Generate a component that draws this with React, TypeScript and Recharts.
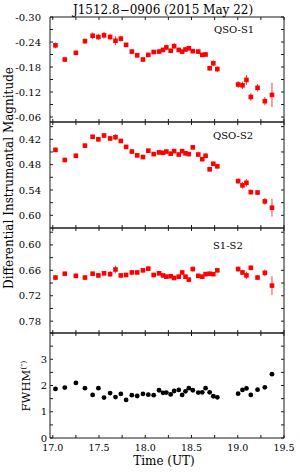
import React from 'react';
import { ScatterChart, Scatter, XAxis, YAxis, ErrorBar } from 'recharts';

// observation times (UT hours), shared by all panels
const times = [
  17.029, 17.13, 17.25, 17.348, 17.431, 17.493, 17.554, 17.62, 17.678, 17.736,
  17.793, 17.855, 17.913, 17.975, 18.033, 18.091, 18.149, 18.192, 18.228, 18.275,
  18.312, 18.362, 18.399, 18.435, 18.471, 18.514, 18.573, 18.616, 18.652, 18.696,
  18.736, 18.779, 19.004, 19.051, 19.094, 19.141, 19.214, 19.293, 19.37,
];

const qsoS1 = [
  -0.232, -0.198, -0.214, -0.242, -0.255, -0.252, -0.256, -0.252, -0.243, -0.248,
  -0.233, -0.217, -0.208, -0.198, -0.209, -0.216, -0.217, -0.221, -0.227, -0.219,
  -0.23, -0.221, -0.217, -0.222, -0.225, -0.218, -0.217, -0.209, -0.21, -0.177,
  -0.189, -0.175, -0.138, -0.136, -0.149, -0.108, -0.13, -0.098, -0.113,
];
const qsoS1Err = [
  0.007, 0.005, 0.005, 0.006, 0.008, 0.007, 0.008, 0.008, 0.011, 0.007,
  0.005, 0.005, 0.005, 0.005, 0.005, 0.005, 0.005, 0.005, 0.006, 0.005,
  0.007, 0.005, 0.005, 0.005, 0.006, 0.005, 0.005, 0.005, 0.005, 0.006,
  0.007, 0.007, 0.008, 0.009, 0.012, 0.009, 0.009, 0.01, 0.029,
];

const qsoS2 = [
  0.445, 0.469, 0.459, 0.435, 0.414, 0.42, 0.411, 0.418, 0.415, 0.424,
  0.438, 0.449, 0.458, 0.462, 0.447, 0.455, 0.451, 0.452, 0.449, 0.454,
  0.448, 0.456, 0.448, 0.453, 0.455, 0.439, 0.456, 0.467, 0.459, 0.491,
  0.478, 0.484, 0.519, 0.529, 0.523, 0.545, 0.546, 0.567, 0.582,
];
const qsoS2Err = [
  0.005, 0.005, 0.005, 0.005, 0.005, 0.005, 0.005, 0.006, 0.007, 0.005,
  0.005, 0.005, 0.005, 0.005, 0.005, 0.005, 0.005, 0.005, 0.005, 0.005,
  0.005, 0.005, 0.005, 0.005, 0.005, 0.005, 0.005, 0.005, 0.005, 0.005,
  0.005, 0.005, 0.006, 0.008, 0.009, 0.006, 0.006, 0.008, 0.021,
];

const s1s2 = [
  0.677, 0.668, 0.673, 0.677, 0.668, 0.672, 0.667, 0.669, 0.658, 0.672,
  0.671, 0.665, 0.665, 0.66, 0.656, 0.671, 0.667, 0.672, 0.675, 0.674,
  0.678, 0.675, 0.665, 0.675, 0.682, 0.657, 0.673, 0.675, 0.669, 0.668,
  0.669, 0.66, 0.657, 0.665, 0.672, 0.654, 0.677, 0.666, 0.696,
];
const s1s2Err = [
  0.005, 0.005, 0.005, 0.005, 0.005, 0.005, 0.005, 0.007, 0.009, 0.005,
  0.005, 0.005, 0.005, 0.005, 0.005, 0.005, 0.005, 0.005, 0.005, 0.005,
  0.005, 0.005, 0.005, 0.005, 0.005, 0.006, 0.005, 0.005, 0.005, 0.005,
  0.005, 0.005, 0.006, 0.006, 0.009, 0.006, 0.005, 0.008, 0.022,
];

const fwhm = [
  1.87, 1.92, 2.1, 1.9, 1.64, 1.9, 1.54, 1.71, 1.56, 1.68,
  1.45, 1.63, 1.6, 1.68, 1.65, 1.63, 1.82, 1.72, 1.73, 1.66,
  1.79, 1.83, 1.64, 1.78, 1.9, 1.82, 1.73, 1.74, 1.9, 1.74,
  1.59, 1.55, 1.69, 1.83, 1.89, 1.64, 1.84, 1.93, 2.43,
];

const xTicks = [17, 17.25, 17.5, 17.75, 18, 18.25, 18.5, 18.75, 19, 19.25, 19.5];
const xLabels = [17, 17.5, 18, 18.5, 19, 19.5];

const s1Ticks = [-0.3, -0.27, -0.24, -0.21, -0.18, -0.15, -0.12, -0.09, -0.06];
const s1Labels = [-0.3, -0.24, -0.18, -0.12, -0.06];
const s2Ticks = [0.39, 0.42, 0.45, 0.48, 0.51, 0.54, 0.57, 0.6];
const s2Labels = [0.42, 0.48, 0.54, 0.6];
const dTicks = [0.57, 0.6, 0.63, 0.66, 0.69, 0.72, 0.75, 0.78];
const dLabels = [0.6, 0.66, 0.72, 0.78];
const fTicks = [0, 0.5, 1, 1.5, 2, 2.5, 3, 3.5, 4];
const fLabels = [0, 1, 2, 3];

const FONT = 'DejaVu Serif';
const INK = '#1a1a1a';
const PAD = 8;

const only = (list: number[], digits: number) => (v: number) =>
  list.some((m) => Math.abs(m - v) < 1e-6) ? v.toFixed(digits) : '';

const build = (ys: number[], errs?: number[]) =>
  times.map((x, i) => ({ x, y: ys[i], e: errs ? errs[i] : 0 }));

const redSquare = (p: any) => (
  <rect x={p.cx - 2.3} y={p.cy - 2.3} width={4.6} height={4.6} fill="#ff0000" />
);
const blackDot = (p: any) => <circle cx={p.cx} cy={p.cy} r={2.4} fill="#000" />;

interface PanelProps {
  top: number;
  height: number;
  data: { x: number; y: number; e: number }[];
  domain: [number, number];
  ticks: number[];
  labels: number[];
  digits: number;
  reversed?: boolean;
  bottomAxis?: boolean;
  labelGap: number;
  fwhmPanel?: boolean;
}

// one stacked panel; the hidden top/right axes are 1px thick (a 0px axis is not drawn)
const Panel: React.FC<PanelProps> = ({
  top, height, data, domain, ticks, labels, digits, reversed, bottomAxis, labelGap, fwhmPanel,
}) => {
  const axisH = bottomAxis ? 30 : 1;
  const line = { stroke: INK, strokeWidth: 1 };
  const tickStyle = { fill: '#000', fontSize: 10, fontFamily: FONT };
  return (
    <div style={{ position: 'absolute', left: 0, top: top - PAD - 1 }}>
      <ScatterChart
        width={300}
        height={PAD + 1 + height + axisH + (bottomAxis ? 0 : PAD)}
        margin={{ top: PAD, right: 15, bottom: bottomAxis ? 0 : PAD, left: 0 }}
      >
        <XAxis
          xAxisId="b"
          type="number"
          dataKey="x"
          domain={[16.97, 19.5]}
          allowDataOverflow
          ticks={xTicks}
          interval={0}
          height={axisH}
          tickSize={-3}
          tickMargin={9}
          tickFormatter={bottomAxis ? only(xLabels, 1) : () => ''}
          axisLine={line}
          tickLine={line}
          tick={{ ...tickStyle, fontSize: 9.5 }}
        />
        <XAxis
          xAxisId="t"
          orientation="top"
          type="number"
          dataKey="x"
          domain={[16.97, 19.5]}
          allowDataOverflow
          ticks={xTicks}
          interval={0}
          height={1}
          tickSize={-3}
          tickFormatter={() => ''}
          axisLine={line}
          tickLine={line}
          tick={tickStyle}
        />
        <YAxis
          yAxisId="l"
          type="number"
          dataKey="y"
          domain={domain}
          allowDataOverflow
          reversed={reversed}
          ticks={ticks}
          interval={0}
          width={50}
          tickSize={-3}
          tickMargin={labelGap}
          tickFormatter={only(labels, digits)}
          axisLine={line}
          tickLine={line}
          tick={tickStyle}
        />
        <YAxis
          yAxisId="r"
          orientation="right"
          type="number"
          dataKey="y"
          domain={domain}
          allowDataOverflow
          reversed={reversed}
          ticks={ticks}
          interval={0}
          width={1}
          tickSize={-3}
          tickFormatter={() => ''}
          axisLine={line}
          tickLine={line}
          tick={tickStyle}
        />
        <Scatter
          xAxisId="b"
          yAxisId="l"
          data={data}
          dataKey="y"
          isAnimationActive={false}
          shape={fwhmPanel ? blackDot : redSquare}
        >
          {!fwhmPanel && (
            <ErrorBar
              dataKey="e"
              direction="y"
              width={0}
              stroke="#ff3c3c"
              strokeWidth={1}
              isAnimationActive={false}
            />
          )}
        </Scatter>
      </ScatterChart>
    </div>
  );
};

const App: React.FC = () => {
  const text = { fontFamily: FONT, fill: '#000' };
  return (
    <div
      style={{
        position: 'absolute',
        left: 0,
        top: 0,
        width: 300,
        height: 473,
        background: '#fff',
        overflow: 'hidden',
      }}
    >
      <Panel top={17} height={105} data={build(qsoS1, qsoS1Err)} domain={[-0.3, -0.048]}
        ticks={s1Ticks} labels={s1Labels} digits={2} reversed labelGap={12} />
      <Panel top={122} height={106} data={build(qsoS2, qsoS2Err)} domain={[0.379, 0.63]}
        ticks={s2Ticks} labels={s2Labels} digits={2} reversed labelGap={12} />
      <Panel top={228} height={105} data={build(s1s2, s1s2Err)} domain={[0.56, 0.808]}
        ticks={dTicks} labels={dLabels} digits={2} reversed labelGap={12} />
      <Panel top={333} height={105} data={build(fwhm)} domain={[0, 4]}
        ticks={fTicks} labels={fLabels} digits={0} bottomAxis labelGap={6} fwhmPanel />

      <svg width={300} height={473} style={{ position: 'absolute', left: 0, top: 0, pointerEvents: 'none' }}>
        <text x={163} y={13.5} textAnchor="middle" fontSize={12} {...text}>
          J1512.8−0906 (2015 May 22)
        </text>
        <text x={214} y={33} fontSize={10} {...text}>QSO-S1</text>
        <text x={213} y={139} fontSize={10} {...text}>QSO-S2</text>
        <text x={213} y={249} fontSize={10} {...text}>S1-S2</text>
        <text x={12.5} y={178} transform="rotate(-90 12.5 178)" textAnchor="middle" fontSize={12} {...text}>
          Differential Instrumental Magnitude
        </text>
        <text x={30} y={386} transform="rotate(-90 30 386)" textAnchor="middle" fontSize={11.5} {...text}>
          FWHM<tspan fontSize={8} dy={-4}>(″)</tspan>
        </text>
        <text x={164} y={465} textAnchor="middle" fontSize={12} {...text}>
          Time (UT)
        </text>
      </svg>
    </div>
  );
};

export default App;
